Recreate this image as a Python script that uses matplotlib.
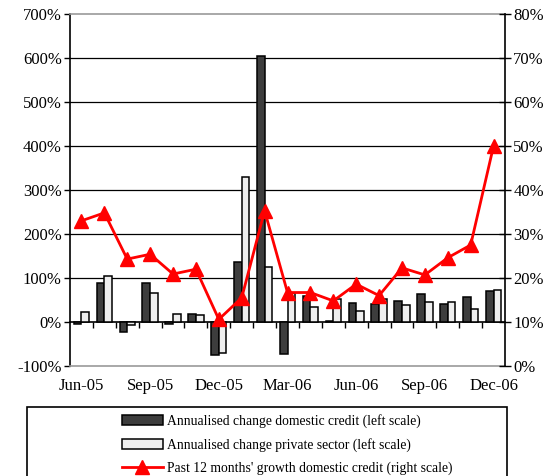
import numpy as np
import matplotlib
matplotlib.use("Agg")
import matplotlib.pyplot as plt
import matplotlib.patches as patches

plt.rcParams["font.family"] = ["Liberation Serif", "DejaVu Serif"]

months = ["Jun-05", "Jul-05", "Aug-05", "Sep-05", "Oct-05", "Nov-05", "Dec-05",
          "Jan-06", "Feb-06", "Mar-06", "Apr-06", "May-06", "Jun-06", "Jul-06",
          "Aug-06", "Sep-06", "Oct-06", "Nov-06", "Dec-06"]
# annualised change, left scale (%)
domestic_credit = [-4, 89, -23, 89, -5, 19, -76, 136, 605, -73, 58, 3, 43, 42,
                   47, 64, 41, 57, 71]
private_sector = [23, 105, -6, 66, 19, 17, -71, 329, 124, 66, 34, 53, 24, 53,
                  38, 46, 45, 30, 73]
# past 12 months growth, right scale (%)
growth_12m = [33.0, 34.8, 24.3, 25.4, 20.9, 22.0, 10.6, 15.5, 35.3, 16.7, 16.7,
              14.8, 18.6, 16.0, 22.3, 20.7, 24.6, 27.5, 50.0]

left_ticks = list(range(-100, 701, 100))
right_ticks = list(range(0, 81, 10))
label_months = months[::3]

W, H = 556, 476
fig = plt.figure(figsize=(W / 100, H / 100), dpi=100)
ax = fig.add_axes([70 / W, 1 - 366 / H, (505 - 70) / W, (366 - 14) / H])

x = np.arange(len(months))
bw = 0.335
ax.bar(x - bw / 2, domestic_credit, bw, color="#3d3d3d", edgecolor="black",
       linewidth=1.1, zorder=3, label="Annualised change domestic credit (left scale)")
ax.bar(x + bw / 2, private_sector, bw, color="#eeeeee", edgecolor="black",
       linewidth=1.1, zorder=3, label="Annualised change private sector (left scale)")

ax.set_xlim(-0.5, len(months) - 0.5)
ax.set_ylim(-100, 700)
ax.set_yticks(left_ticks)
ax.set_yticklabels([f"{v}%" for v in left_ticks], fontsize=12)
ax.tick_params(axis="y", direction="out", length=4, width=1, pad=2)
for v in left_ticks[2:-1]:
    ax.axhline(v, color="black", linewidth=0.9, zorder=1)

ax.set_xticks(x[::3])
ax.set_xticklabels(label_months, fontsize=12)
ax.tick_params(axis="x", length=0, pad=9)

for s in ["top", "bottom"]:
    ax.spines[s].set_color("#999999")
    ax.spines[s].set_linewidth(1.2)
ax.spines["left"].set_linewidth(1.2)
ax.spines["right"].set_visible(False)

# zero line with month boundary ticks
zero_ax = ax.secondary_xaxis(100 / 800)
zero_ax.set_xticks(x[:-1] + 0.5)
zero_ax.set_xticklabels([])
zero_ax.tick_params(direction="out", length=4, width=1)
zero_ax.spines["bottom"].set_linewidth(1.2)

ax2 = ax.twinx()
ax2.plot(x, growth_12m, color="red", linewidth=2, marker="^", markersize=10,
         label="Past 12 months' growth domestic credit (right scale)", zorder=5)
ax2.set_ylim(0, 80)
ax2.set_yticks(right_ticks)
ax2.set_yticklabels([f"{v}%" for v in right_ticks], fontsize=12)
ax2.tick_params(axis="y", direction="inout", length=8, width=1, pad=2)
ax2.spines["right"].set_linewidth(1.2)
for s in ["top", "bottom", "left"]:
    ax2.spines[s].set_visible(False)

# legend box, cut off at the bottom of the figure
fig.patches.append(patches.Rectangle((27 / W, -0.05), (507 - 27) / W, 0.05 + 1 - 407 / H,
                                     transform=fig.transFigure, fill=False,
                                     edgecolor="black", linewidth=1.2))
h1, l1 = ax.get_legend_handles_labels()
h2, l2 = ax2.get_legend_handles_labels()
fig.legend(h1 + h2, l1 + l2, loc="upper left", bbox_to_anchor=(122 / W, 1 - 414 / H),
           frameon=False, fontsize=9.8, handlelength=3.0, handletextpad=0.3,
           labelspacing=0.72, borderpad=0, borderaxespad=0)

fig.savefig("out.png", dpi=100)
